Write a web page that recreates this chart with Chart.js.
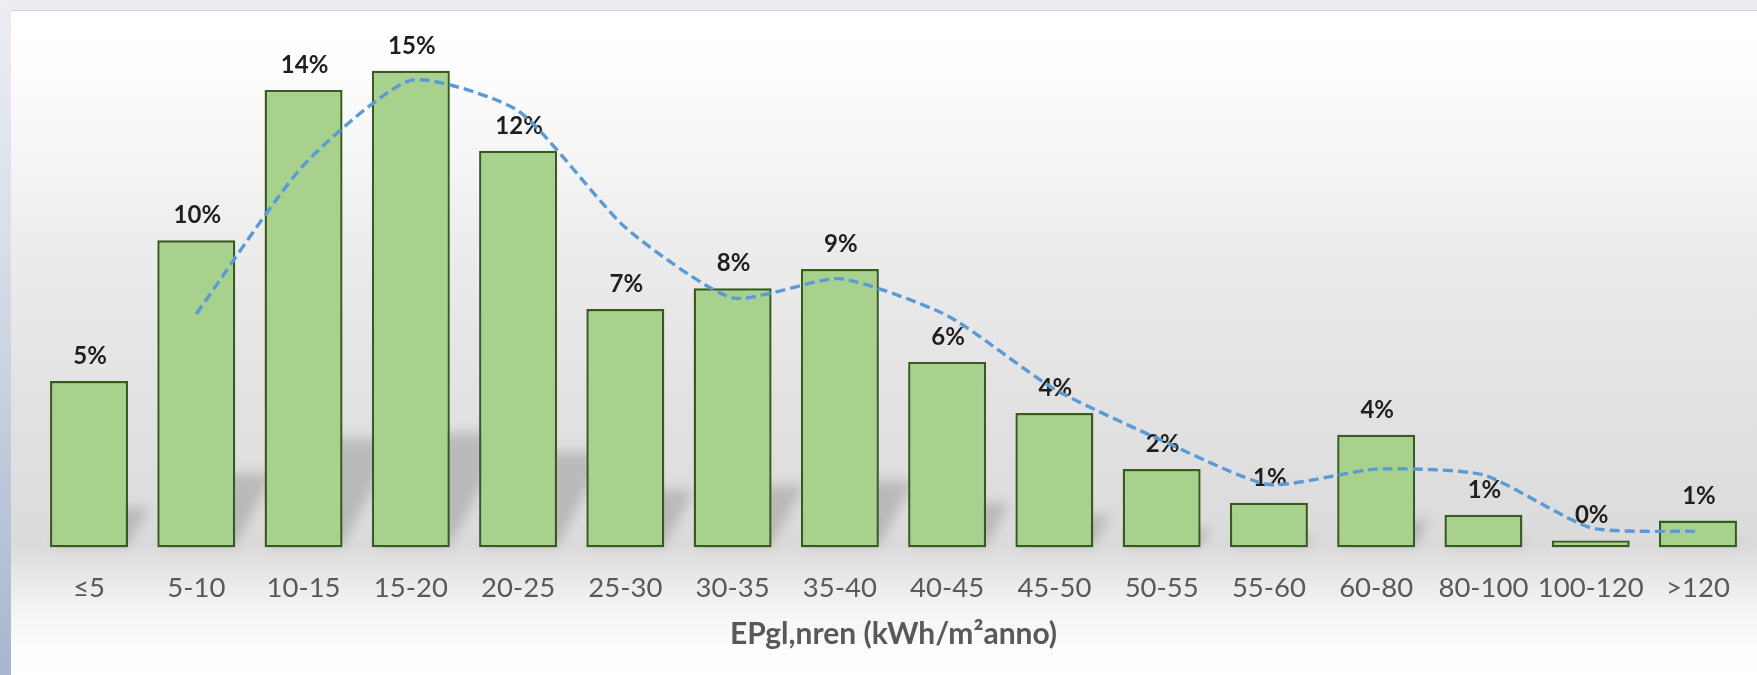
<!DOCTYPE html>
<html>
<head>
<meta charset="utf-8">
<script src="https://cdn.jsdelivr.net/npm/chart.js@4.4.1/dist/chart.umd.min.js"></script>
<style>
  html, body { margin: 0; padding: 0; }
  body { width: 1757px; height: 675px; position: relative; overflow: hidden; background: #eceef2; }
  #topbar { position: absolute; left: 0; top: 0; width: 1757px; height: 10px; background: #ebedf1; border-bottom: 1px solid #d3d6dc; }
  #sidebar { position: absolute; left: 0; top: 0; width: 11px; height: 675px;
    background: linear-gradient(to bottom, #eceef2 0%, #d9dfe8 35%, #bdc9da 70%, #a7b7ce 100%); }
  #panel { position: absolute; left: 11px; top: 11px; width: 1746px; height: 664px;
    background: linear-gradient(to bottom,
      #ffffff 0%, #fefefe 8%, #fafafa 13.4%, #f6f6f6 21%, #f1f1f1 28.5%, #ececec 36%,
      #e2e2e2 58.6%, #dbdbdb 80.4%, #e4e4e4 84%, #eeeeee 87.5%, #f5f5f5 91%, #fcfcfc 95.5%, #ffffff 100%); }
  canvas { display: block; }
</style>
</head>
<body>
<div id="topbar"></div>
<div id="sidebar"></div>
<div id="panel"><canvas id="chart" width="1746" height="664"></canvas></div>
<script>
// Classes of EPgl,nren (kWh/m²anno)
const categories = ['≤5', '5-10', '10-15', '15-20', '20-25', '25-30', '30-35', '35-40',
                    '40-45', '45-50', '50-55', '55-60', '60-80', '80-100', '100-120', '>120'];
// Share of buildings in each class (%)
const shares = [5.2, 9.6, 14.3, 14.9, 12.4, 7.45, 8.1, 8.7, 5.8, 4.2, 2.45, 1.4, 3.52, 1.02, 0.22, 0.84];
// Two-period moving average trend (%), starting at the second class
const trend = [null, 7.3, 11.95, 14.6, 13.65, 10.0, 7.8, 8.4, 7.25, 4.95, 3.35, 1.97, 2.45, 2.27, 0.62, 0.5];
// Value axis range (hidden)
const yMin = 0;
const yMax = 16;

const FONT = 'Lato, "Open Sans", "DejaVu Sans", sans-serif';

// Soft perspective shadow cast by each bar onto the back wall
const barShadow = {
  id: 'barShadow',
  beforeDatasetsDraw(chart) {
    const ctx = chart.ctx;
    const meta = chart.getDatasetMeta(0);
    const base = chart.scales.y.getPixelForValue(0);
    ctx.save();
    ctx.filter = 'blur(6px)';
    ctx.fillStyle = 'rgba(50,50,50,0.21)';
    ctx.beginPath();
    meta.data.forEach(bar => {
      const p = bar.getProps(['x', 'y', 'width'], true);
      const h = base - p.y;
      const L = p.x - p.width / 2, R = p.x + p.width / 2;
      const dx = h * 0.125, dy = h * 0.24;
      ctx.moveTo(L + 4, base - 2);
      ctx.lineTo(R, base - 2);
      ctx.lineTo(R + dx, base - dy);
      ctx.lineTo(L + 4 + dx, base - dy);
      ctx.closePath();
    });
    ctx.fill();
    ctx.restore();
  }
};

// Percentage labels above the bars
const barLabels = {
  id: 'barLabels',
  afterDatasetDraw(chart, args) {
    if (args.index !== 0) return;
    const ctx = chart.ctx;
    const ds = chart.data.datasets[0];
    ctx.save();
    ctx.font = 'bold 24px ' + FONT;
    ctx.fillStyle = '#1f1f1f';
    ctx.textAlign = 'center';
    ctx.textBaseline = 'alphabetic';
    args.meta.data.forEach((bar, i) => {
      const p = bar.getProps(['x', 'y'], true);
      ctx.fillText(Math.round(ds.data[i]) + '%', p.x + 1, p.y - 17);
    });
    ctx.restore();
  }
};

new Chart(document.getElementById('chart'), {
  data: {
    labels: categories,
    datasets: [
      {
        type: 'bar',
        data: shares,
        backgroundColor: '#a9d18e',
        borderColor: '#375a21',
        borderWidth: 2.4,
        borderSkipped: false,
        categoryPercentage: 1.0,
        barPercentage: 0.727,
        order: 2
      },
      {
        type: 'line',
        data: trend,
        borderColor: '#5b9bd5',
        borderWidth: 3.4,
        borderDash: [10, 5],
        borderCapStyle: 'butt',
        pointRadius: 0,
        fill: false,
        tension: 0.2,
        spanGaps: false,
        order: 1
      }
    ]
  },
  options: {
    responsive: false,
    devicePixelRatio: 1,
    animation: false,
    layout: { padding: { left: 24.4, right: 5.4, top: 24.5, bottom: 0 } },
    plugins: { legend: { display: false }, tooltip: { enabled: false } },
    scales: {
      x: {
        grid: { display: false, drawTicks: false },
        border: { display: false },
        ticks: {
          color: '#595959',
          font: { family: FONT, size: 27.5 },
          padding: 24,
          maxRotation: 0,
          autoSkip: false
        },
        title: {
          display: true,
          text: 'EPgl,nren (kWh/m²anno)',
          color: '#595959',
          font: { family: FONT, size: 30, weight: 'bold' },
          padding: { top: 0, bottom: 23 }
        },
        afterFit(scale) { scale.height = 127.5; }
      },
      y: {
        display: false,
        min: yMin,
        max: yMax
      }
    }
  },
  plugins: [barShadow, barLabels]
});
</script>
</body>
</html>
